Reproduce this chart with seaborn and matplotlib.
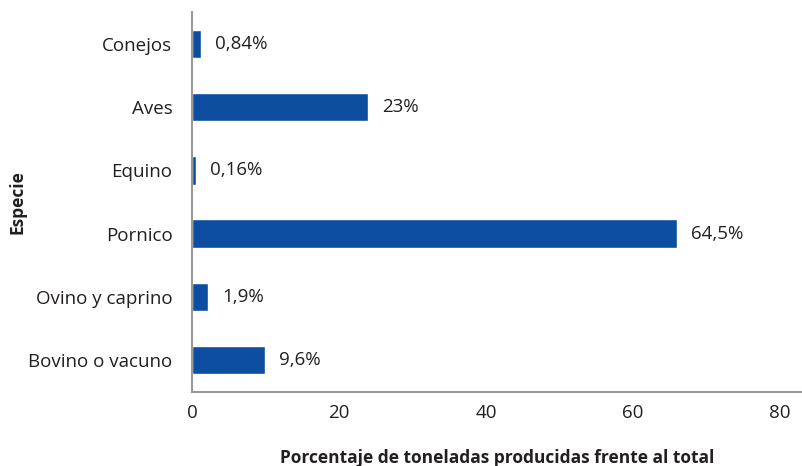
import matplotlib
matplotlib.use("Agg")
import matplotlib.pyplot as plt
import seaborn as sns
import pandas as pd

especies = ["Conejos", "Aves", "Equino", "Pornico", "Ovino y caprino", "Bovino o vacuno"]
porcentaje = [1.2, 23.9, 0.5, 66.0, 2.2, 9.9]
etiquetas = ["0,84%", "23%", "0,16%", "64,5%", "1,9%", "9,6%"]
xticks = [0, 20, 40, 60, 80]

df = pd.DataFrame({"Especie": especies, "Porcentaje": porcentaje})

sns.set_style("white")
plt.rcParams["font.family"] = ["Open Sans", "DejaVu Sans"]

fig = plt.figure(figsize=(8.03, 4.66), dpi=100)
ax = fig.add_axes([0.239, 0.159, 0.761, 0.815])

sns.barplot(data=df, x="Porcentaje", y="Especie", color="#0d4ea0",
            width=0.45, saturation=1, ax=ax)

for i, (v, t) in enumerate(zip(porcentaje, etiquetas)):
    ax.text(v + 1.9, i, t, va="center", ha="left", fontsize=13.5, color="#231f20")

ax.set_xlim(0, 83.1)
ax.set_ylim(5.5, -0.5)
ax.set_xticks(xticks)
ax.set_xticklabels([str(x) for x in xticks], fontsize=13.5, color="#231f20")
ax.tick_params(axis="y", labelsize=13.5, labelcolor="#231f20", length=0, pad=14)
ax.tick_params(axis="x", length=0, pad=9)

ax.set_xlabel("")
ax.set_ylabel("")
fig.text(0.619, 0.017, "Porcentaje de toneladas producidas frente al total",
         ha="center", va="center", fontsize=12.5, fontweight="bold", color="#231f20")
fig.text(0.022, 0.567, "Especie", ha="center", va="center", rotation=90,
         fontsize=12.5, fontweight="bold", color="#231f20")

for s in ["top", "right"]:
    ax.spines[s].set_visible(False)
for s in ["left", "bottom"]:
    ax.spines[s].set_color("#999999")
    ax.spines[s].set_linewidth(1.5)

plt.savefig("out.png", dpi=100)
